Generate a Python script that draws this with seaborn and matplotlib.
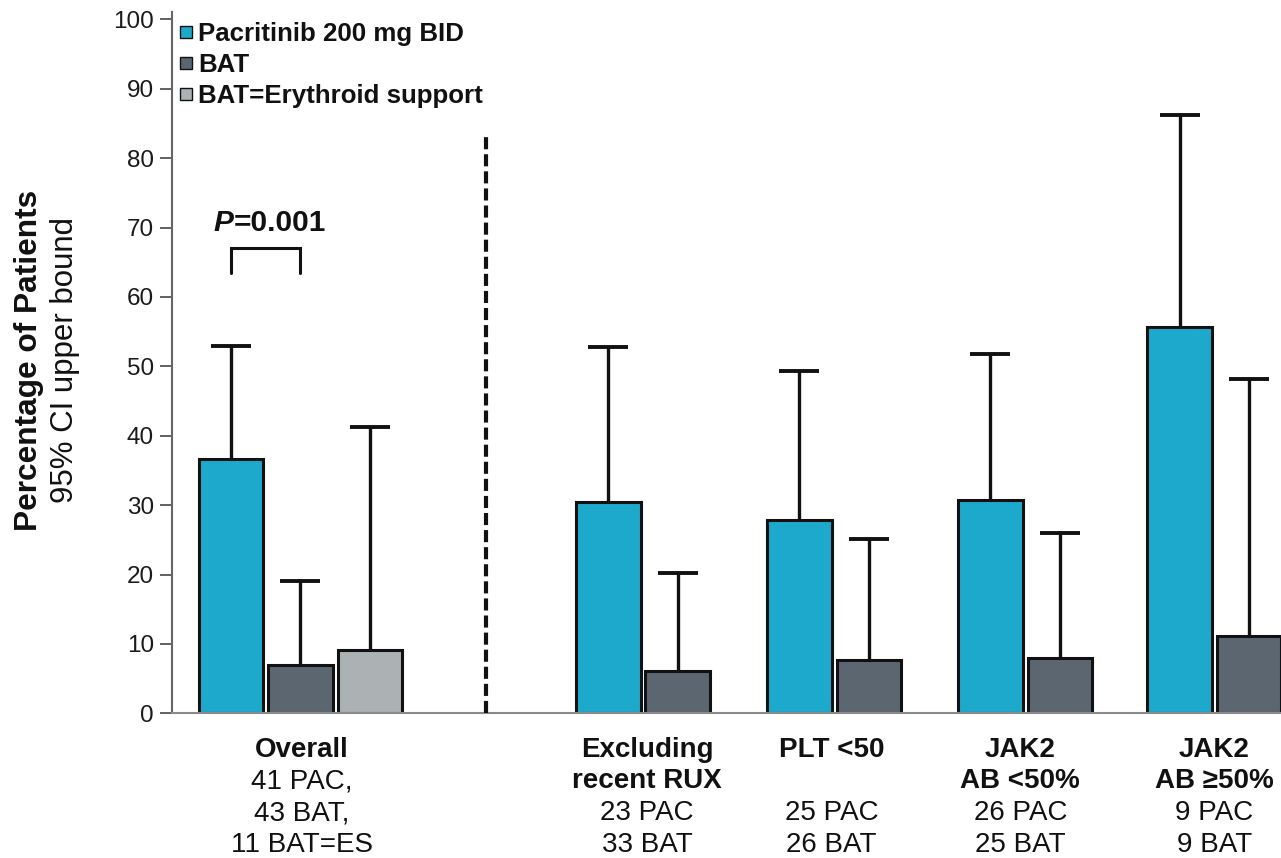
import numpy as np
import pandas as pd
import matplotlib
matplotlib.use("Agg")
import matplotlib.pyplot as plt
from matplotlib.lines import Line2D
import seaborn as sns

# ---- data -------------------------------------------------------------
groups = ["Overall", "Excluding recent RUX", "PLT <50", "JAK2 AB <50%", "JAK2 AB \u226550%"]
series = ["Pacritinib 200 mg BID", "BAT", "BAT=Erythroid support"]

pac_pct = [36.6, 30.4, 27.9, 30.7, 55.6]
pac_ci_upper = [53.0, 52.8, 49.3, 51.8, 86.2]
bat_pct = [7.0, 6.1, 7.7, 8.0, 11.1]
bat_ci_upper = [19.0, 20.2, 25.1, 26.0, 48.2]
es_pct = [9.1]            # Overall group only
es_ci_upper = [41.3]

group_headers = ["Overall", "Excluding\nrecent RUX", "PLT <50", "JAK2\nAB <50%", "JAK2\nAB \u226550%"]
group_counts = ["41 PAC,\n43 BAT,\n11 BAT=ES", "23 PAC\n33 BAT", "25 PAC\n26 BAT",
                "26 PAC\n25 BAT", "9 PAC\n9 BAT"]
p_value_label = "=0.001"

colors = ["#1DA9CB", "#5B6670", "#ACB1B3"]

# ---- layout ------------------------------------------------------------
group_centers = [0.0, 4.93, 7.68, 10.43, 13.15]
label_shift = [0.02, 0.06, -0.035, -0.07, 0.0]
divider_x = 2.67

rows = []
for gi, g in enumerate(groups):
    vals = [(series[0], pac_pct[gi], pac_ci_upper[gi]),
            (series[1], bat_pct[gi], bat_ci_upper[gi])]
    if gi < len(es_pct):
        vals.append((series[2], es_pct[gi], es_ci_upper[gi]))
    n = len(vals)
    for si, (s, v, u) in enumerate(vals):
        rows.append({"group": g, "series": s, "pct": v, "upper": u,
                     "pos": round(group_centers[gi] + si - (n - 1) / 2, 3)})
df = pd.DataFrame(rows)

sns.set_theme(style="white")
plt.rcParams["font.family"] = ["Liberation Sans", "DejaVu Sans"]

fig = plt.figure(figsize=(12.81, 8.58), dpi=100)
ax = fig.add_axes([0.1343, 0.1686, 0.8657, 0.8169])

sns.barplot(data=df, x="pos", y="pct", hue="series", hue_order=series,
            palette=colors, native_scale=True, dodge=False, width=0.93,
            saturation=1, edgecolor="#111111", linewidth=2.2,
            errorbar=None, legend=False, ax=ax, zorder=2)

# upper 95% CI bounds
eb = ax.errorbar(df["pos"], df["pct"], yerr=[np.zeros(len(df)), df["upper"] - df["pct"]],
                 fmt="none", ecolor="#111111", elinewidth=2.4, capsize=14.5,
                 capthick=2.8, zorder=3)
for cl in eb[1]:
    if np.allclose(cl.get_ydata(), df["pct"].values):
        cl.set_visible(False)

ax.set_xlim(-1.846, 14.11)
ax.set_ylim(0, 101)
ax.set_yticks(np.arange(0, 101, 10))
ax.set_xticks([])
ax.set_xlabel("")
ax.set_ylabel("")

for side in ["top", "right"]:
    ax.spines[side].set_visible(False)
ax.spines["left"].set_color("#666666")
ax.spines["left"].set_linewidth(1.5)
ax.spines["bottom"].set_color("#8a8a8a")
ax.spines["bottom"].set_linewidth(1.5)
ax.tick_params(axis="y", left=True, length=9, width=1.3, color="#555555",
               labelsize=17.5, labelcolor="#1a1a1a", pad=4)

# divider between overall and subgroups
ax.vlines(divider_x, 0, 83.3, colors="#111111", linewidth=3,
          linestyles=[(0, (2.9, 1.2))], zorder=4)

# significance bracket between PAC and BAT in the overall group
ov = df[df["group"] == groups[0]]
x_pac, x_bat = ov["pos"].iloc[0], ov["pos"].iloc[1]
ax.plot([x_pac, x_pac, x_bat, x_bat], [63.4, 67.1, 67.1, 63.4], color="#111111",
        lw=2.2, solid_joinstyle="miter", zorder=4)
ax.text(x_pac + 0.04, 70.7, "P", fontsize=21.5, fontweight="bold", fontstyle="italic",
        ha="right", va="center", color="#111111")
ax.text(x_pac + 0.04, 70.7, p_value_label, fontsize=21.5, fontweight="bold",
        ha="left", va="center", color="#111111")

# group labels beneath the axis: bold header lines, then patient counts
row_offsets = [31.3, 53.8, 76.8, 99.9]
for gi in range(len(groups)):
    head = group_headers[gi].split("\n")
    cnt = group_counts[gi].split("\n")
    lines = [(t, "bold") for t in head]
    while len(lines) + len(cnt) < 4:
        lines.append(("", "bold"))
    lines += [(t, "normal") for t in cnt]
    for ri, (t, w) in enumerate(lines):
        if not t:
            continue
        ax.annotate(t, xy=(group_centers[gi] + label_shift[gi], 0),
                    xycoords=("data", "axes fraction"),
                    xytext=(0, -row_offsets[ri]), textcoords="offset points",
                    ha="center", va="baseline", fontsize=20, fontweight=w,
                    color="#111111", annotation_clip=False)

# y-axis title in two weights
fig.text(29 / 1281, 1 - 360 / 858, "Percentage of Patients", rotation=90,
         fontsize=22.8, fontweight="bold", ha="center", va="center", color="#111111")
fig.text(65 / 1281, 1 - 360 / 858, "95% CI upper bound", rotation=90,
         fontsize=22.5, ha="center", va="center", color="#111111")

handles = [Line2D([], [], linestyle="none", marker="s", markersize=8.5,
                  markerfacecolor=c, markeredgecolor="#111111", markeredgewidth=1.0)
           for c in colors]
leg = ax.legend(handles, series, loc="upper left", bbox_to_anchor=(177 / 1281, 1 - 22 / 858),
                bbox_transform=fig.transFigure, frameon=False,
                prop={"weight": "bold", "size": 18.6}, handlelength=0.7,
                handletextpad=0.12, labelspacing=0.27, borderpad=0, borderaxespad=0)
for t in leg.get_texts():
    t.set_color("#111111")

fig.savefig("out.png", dpi=100)
